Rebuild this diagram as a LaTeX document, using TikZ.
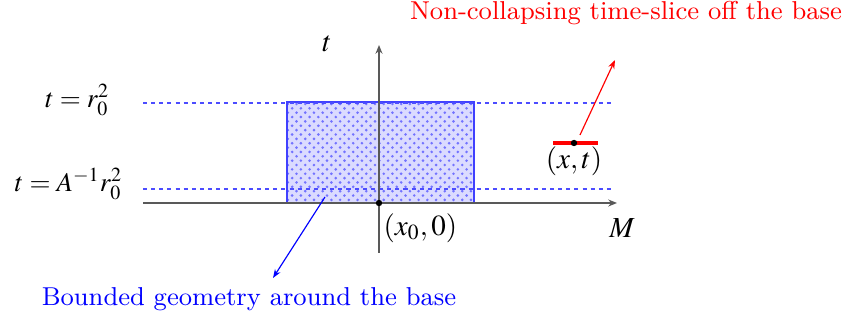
\documentclass[tikz,border=0pt]{standalone}
\usepackage{mathptmx}
\usetikzlibrary{arrows.meta,patterns}

\begin{document}
\begin{tikzpicture}[x=0.344pt,y=-0.344pt,
    axis/.style={draw=black!65, line width=0.5pt, -{Stealth[length=3pt,width=2.4pt]}},
    level/.style={draw=blue!70, dash pattern=on 1.4pt off 1.4pt, line width=0.35pt},
    region/.style={draw=blue!75, line width=0.6pt, preaction={fill=blue!14},
        pattern=crosshatch dots, pattern color=blue!55},
    pointer/.style={line width=0.4pt, -{Stealth[length=3pt,width=2.2pt]}},
    remark/.style={inner sep=0pt, font=\fontsize{8.9}{11}\selectfont}]
    \useasboundingbox (0,0) rectangle (853,322);

    % Der Basisbereich (blau schraffiert)
    \path[region] (287,102) rectangle (474,203);

    % Niveaulinien fuer die Zeiten
    \draw[level] (143,103) -- (615,103);
    \draw[level] (143,189) -- (615,189);

    % Achsen
    \coordinate (O) at (379,203);
    \draw[axis] (143,203) -- (617,203);
    \draw[axis] (379,253) -- (379,45);
    \fill (O) circle (3.2);

    % Achsenbeschriftungen
    \node (tlab) at (327,44) {$t$};
    \node (Mlab) at (622,228) {$M$};
    \node[anchor=west, inner sep=0pt] (base) at (383,228) {$(x_0,0)$};
    \node[anchor=east, inner sep=0pt, scale=0.93] (top) at (110,100) {$t=r_0^2$};
    \node[anchor=east, inner sep=0pt, scale=0.93] (low) at (123,184) {$t=A^{-1}r_0^2$};

    % Zeitscheibe abseits der Basis (rot)
    \coordinate (P) at (574,143);
    \draw[red, line width=1.2pt] (553,143) -- (598,143);
    \fill (P) circle (3.2);
    \node (Plab) at (574,161) {$(x,t)$};

    % Hinweise mit Pfeilen
    \node[remark, red] (slice) at (626,13) {Non-collapsing time-slice off the base};
    \coordinate (s0) at (580,135);
    \coordinate (s1) at (615,60);
    \draw[pointer, red] (s0) -- (s1);

    \node[remark, blue] (geom) at (249,299) {Bounded geometry around the base};
    \coordinate (g0) at (325,197);
    \coordinate (g1) at (273,278);
    \draw[pointer, blue] (g0) -- (g1);

\end{tikzpicture}
\end{document}
